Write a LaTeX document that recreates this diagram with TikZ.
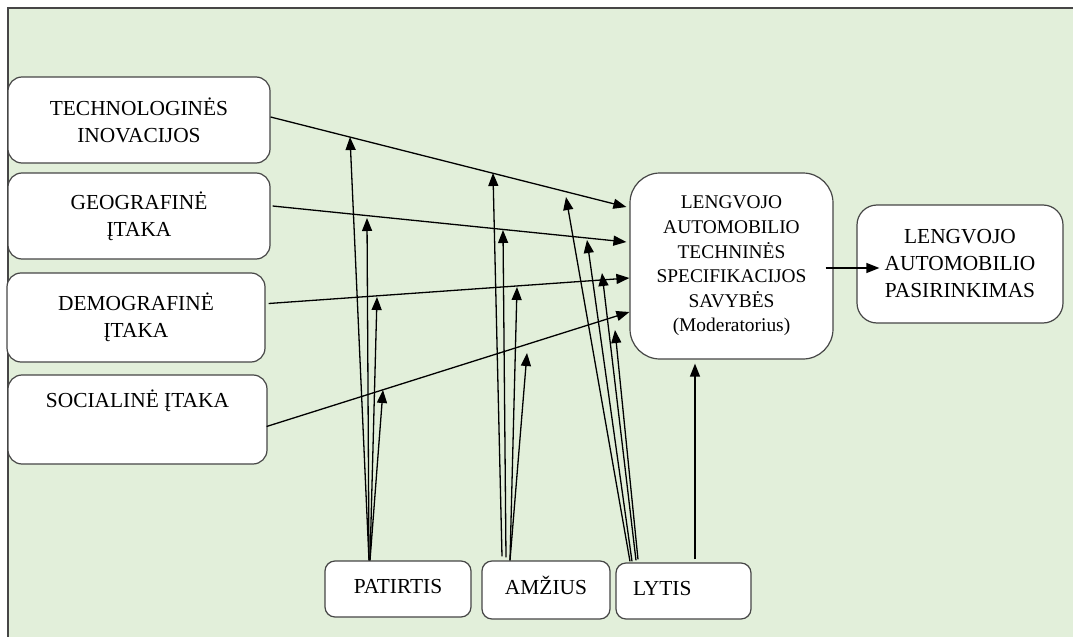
\documentclass[tikz,border=0pt]{standalone}
\usepackage{fontspec}
\setmainfont{Liberation Serif}
\usetikzlibrary{arrows.meta,calc}
\definecolor{bggreen}{RGB}{226,239,218}
\definecolor{boxline}{RGB}{70,70,70}

\begin{document}
\begin{tikzpicture}[x=0.5pt,y=-0.5pt,
    box/.style={shape=rectangle, rounded corners=7pt, draw=boxline, fill=white, line width=0.6pt,
        align=center, inner sep=0pt, font=\fontsize{10.7}{13.5}\selectfont},
    smallbox/.style={box, rounded corners=5pt, text height=4.6pt, text depth=0pt},
    link/.style={-{Triangle[length=6.5pt,width=5pt]}, line width=0.65pt}]

    \useasboundingbox (0,0) rectangle (1073,637);
    \fill[bggreen] (8,8) rectangle (1073,637);
    \draw[boxline, line width=0.8pt] (8,637) -- (8,8) -- (1073,8);

    % veiksniai
    \node[box, minimum width=131pt, minimum height=43pt] (tech) at (139,120) {TECHNOLOGINĖS\\INOVACIJOS};
    \node[box, minimum width=131pt, minimum height=43pt] (geo) at (139,216) {GEOGRAFINĖ\\ĮTAKA};
    \node[box, minimum width=129pt, minimum height=44.5pt] (demo) at (136,317.5) {DEMOGRAFINĖ\\ĮTAKA};
    \node[box, minimum width=129.5pt, minimum height=44.5pt] (soc) at (137.5,419.5) {SOCIALINĖ ĮTAKA\\[7pt]~};

    \node[box, rounded corners=15pt, minimum width=101.5pt, minimum height=93pt,
        font=\fontsize{9.7}{12.3}\selectfont] (mod) at (731.5,266)
        {LENGVOJO\\AUTOMOBILIO\\TECHNINĖS\\SPECIFIKACIJOS\\SAVYBĖS\\(Moderatorius)};
    \node[box, rounded corners=10pt, minimum width=103pt, minimum height=59pt] (choice) at (960,264)
        {LENGVOJO\\AUTOMOBILIO\\PASIRINKIMAS};

    % kontroliniai kintamieji
    \node[smallbox, minimum width=73pt, minimum height=28pt] (pat) at (398,589) {PATIRTIS};
    \node[smallbox, minimum width=64pt, minimum height=29pt] (amz) at (546,590) {AMŽIUS};
    \node[smallbox, minimum height=28pt, inner xsep=8.5pt, text width=50.5pt, align=left] (lyt) at (683.5,591) {LYTIS};

    \path [link] ($(tech.east)+(0,-3)$) edge ($(mod.west)+(-3,-59)$);
    \path [link] ($(geo.east)+(2,-10)$) edge ($(mod.west)+(-3,-24)$);
    \path [link] ($(demo.east)+(3,-14)$) edge ($(mod.west)+(0,12)$);
    \path [link] ($(soc.east)+(-1,7)$) edge ($(mod.west)+(0,46)$);
    \path [link] ($(mod.east)+(-8,2)$) edge ($(choice.west)+(23,4)$);

    % rodykliu galai ant rysiu
    \coordinate (p1) at (350,137);
    \coordinate (p2) at (367,218);
    \coordinate (p3) at (377,297);
    \coordinate (p4) at (383,390);
    \coordinate (a1) at (493,173);
    \coordinate (a2) at (503,230);
    \coordinate (a3) at (517,287);
    \coordinate (a4) at (527,353);
    \coordinate (l1) at (566,197);
    \coordinate (l2) at (587,240);
    \coordinate (l3) at (602,273);
    \coordinate (l4) at (615,330);

    \path [link] ($(pat.north)+(-29,0)$) edge (p1);
    \path [link] ($(pat.north)+(-29,0)$) edge (p2);
    \path [link] ($(pat.north)+(-28,0)$) edge (p3);
    \path [link] ($(pat.north)+(-28,0)$) edge (p4);

    \path [link] ($(amz.north)+(-44,-4)$) edge (a1);
    \path [link] ($(amz.north)+(-40,-3)$) edge (a2);
    \path [link] ($(amz.north)+(-36,0)$) edge (a3);
    \path [link] ($(amz.north)+(-36,0)$) edge (a4);

    \path [link] ($(lyt.north)+(-53.5,-1)$) edge (l1);
    \path [link] ($(lyt.north)+(-51.5,-1)$) edge (l2);
    \path [link] ($(lyt.north)+(-47.5,-2)$) edge (l3);
    \path [link] ($(lyt.north)+(-45.5,-3)$) edge (l4);
    \path [link] ($(lyt.north)+(11.5,-3)$) edge ($(mod.south)+(-36.5,4)$);

\end{tikzpicture}
\end{document}
